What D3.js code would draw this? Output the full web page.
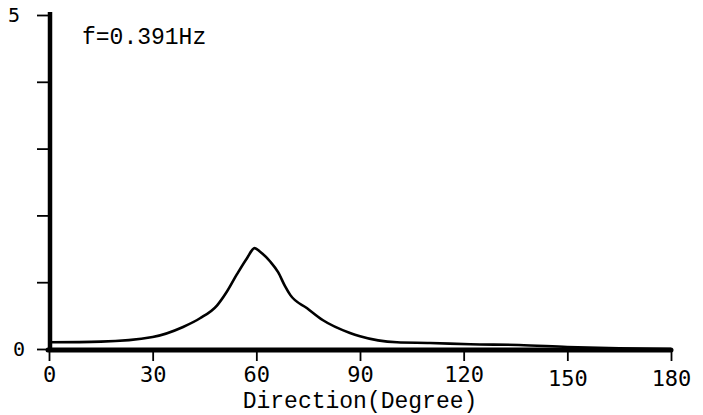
<!DOCTYPE html>
<html>
<head>
<meta charset="utf-8">
<script src="https://cdn.jsdelivr.net/npm/d3@7"></script>
<style>
  html, body { margin: 0; padding: 0; background: #fff; }
  svg { display: block; }
</style>
</head>
<body>
<svg id="chart" width="703" height="415"></svg>
<script>
// Directional spreading at f = 0.391 Hz
const directions = [0, 15, 30, 38.8, 43.7, 48.6, 51.5, 54.4, 57.3, 59.5, 61, 64, 66.3, 68.3, 69.8, 74.7, 79.3, 87.1, 90, 100.7, 110.3, 121.9, 136, 150, 165, 180];
const spreading  = [0.10, 0.11, 0.18, 0.33, 0.46, 0.65, 0.86, 1.12, 1.36, 1.51, 1.46, 1.31, 1.15, 0.94, 0.81, 0.61, 0.43, 0.24, 0.19, 0.10, 0.09, 0.07, 0.06, 0.03, 0.01, 0.0];

const xTicks = [0, 30, 60, 90, 120, 150, 180];
const yTicks = [0, 1, 2, 3, 4, 5];
const yLabelled = [0, 5];
const frequencyLabel = "f=0.391Hz";
const xTitle = "Direction(Degree)";

const svg = d3.select("#chart");
const x = d3.scaleLinear().domain([0, 180]).range([49, 671]);
const y = d3.scaleLinear().domain([0, 5]).range([349, 15]);

const ink = "#000";

// y axis: ticks to the left, labels only at the ends
const yAxis = svg.append("g")
  .attr("transform", `translate(${x(0)},0)`)
  .call(d3.axisLeft(y).tickValues(yTicks).tickSize(12).tickSizeOuter(0).tickPadding(12)
    .tickFormat(d => yLabelled.includes(d) ? d : ""));
yAxis.select(".domain").remove();
yAxis.selectAll(".tick line").attr("stroke", ink).attr("stroke-width", 1.8);
yAxis.selectAll(".tick text")
  .attr("fill", ink)
  .style("font-family", "'DejaVu Sans Mono', monospace")
  .style("font-size", "20px")
  .attr("x", d => d === 5 ? -29 : -24);

// x axis: ticks hang below the base line
const xAxis = svg.append("g")
  .attr("transform", `translate(0,${y(0) + 1})`)
  .call(d3.axisBottom(x).tickValues(xTicks).tickSize(11).tickSizeOuter(0).tickPadding(3));
xAxis.select(".domain").remove();
xAxis.selectAll(".tick line").attr("stroke", ink).attr("stroke-width", 1.8);
xAxis.selectAll(".tick text")
  .attr("fill", ink)
  .style("font-family", "'DejaVu Sans Mono', monospace")
  .style("font-size", "22px")
  .attr("dy", d => d >= 150 ? "1.0em" : "0.8em");

// heavy axis lines
svg.append("line")
  .attr("x1", x(0) + 1).attr("x2", x(0) + 1)
  .attr("y1", y(5) - 3).attr("y2", y(0) + 3)
  .attr("stroke", ink).attr("stroke-width", 4.5);
svg.append("line")
  .attr("x1", x(0) - 1).attr("x2", x(180))
  .attr("y1", y(0) + 1).attr("y2", y(0) + 1)
  .attr("stroke", ink).attr("stroke-width", 5)
  .attr("stroke-linecap", "round");

// spreading curve
const line = d3.line()
  .x((d, i) => x(directions[i]))
  .y(d => y(d))
  .curve(d3.curveMonotoneX);
svg.append("path")
  .datum(spreading)
  .attr("d", line)
  .attr("fill", "none")
  .attr("stroke", ink)
  .attr("stroke-width", 2.6)
  .attr("stroke-linejoin", "round");

// labels
svg.append("text")
  .attr("x", 82).attr("y", 44)
  .attr("fill", ink)
  .style("font-family", "'Liberation Mono', 'Courier New', monospace")
  .style("font-size", "23px")
  .text(frequencyLabel);

svg.append("text")
  .attr("x", x(90)).attr("y", 408)
  .attr("text-anchor", "middle")
  .attr("fill", ink)
  .style("font-family", "'Liberation Mono', 'Courier New', monospace")
  .style("font-size", "23px")
  .text(xTitle);
</script>
</body>
</html>
